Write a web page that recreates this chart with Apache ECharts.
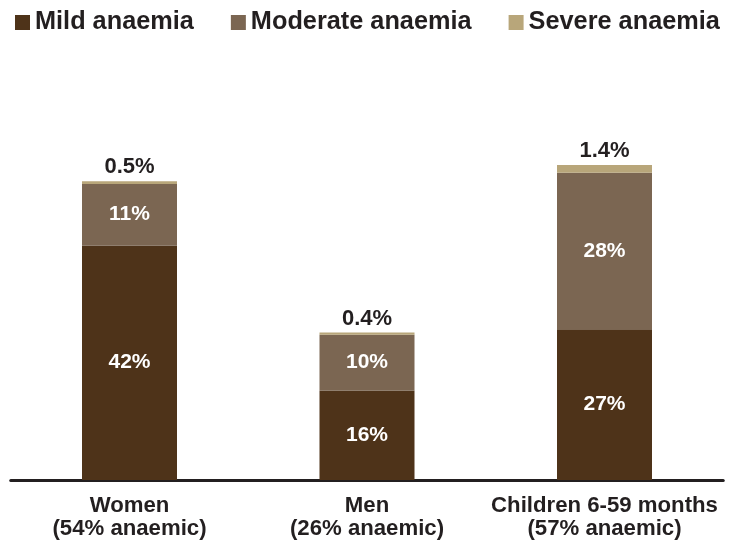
<!DOCTYPE html>
<html>
<head>
<meta charset="utf-8">
<script src="https://cdn.jsdelivr.net/npm/echarts@6/dist/echarts.min.js"></script>
<style>
html,body{margin:0;padding:0;background:#fff;}
#chart{width:734px;height:541px;}
</style>
</head>
<body>
<div id="chart"></div>
<script>
const categories = ['Women\n(54% anaemic)', 'Men\n(26% anaemic)', 'Children 6-59 months\n(57% anaemic)'];
const mild = [42, 16, 27];
const moderate = [11, 10, 28];
const severe = [0.5, 0.4, 1.4];
const seriesNames = ['Mild anaemia', 'Moderate anaemia', 'Severe anaemia'];

const FONT = '"Liberation Sans", Arial, Helvetica, sans-serif';
const TXT = '#231f20';
const colors = ['#4e3319', '#7b6652', '#b8a67a'];

const chart = echarts.init(document.getElementById('chart'), null, {renderer: 'canvas'});
chart.setOption({
  animation: false,
  textStyle: {fontFamily: FONT},
  color: colors,
  legend: {
    left: 10, top: 5,
    icon: 'rect', itemWidth: 15, itemHeight: 15, itemGap: 37,
    textStyle: {fontFamily: FONT, fontSize: 25.3, fontWeight: 'bold', color: TXT, padding: [0, 0, 0, 0]},
    data: seriesNames
  },
  grid: {left: 10.75, right: 10.75, top: 89, bottom: 61, containLabel: false},
  xAxis: {
    type: 'category', data: categories,
    axisLine: {lineStyle: {color: TXT, width: 3}},
    axisTick: {show: false},
    axisLabel: {fontFamily: FONT, fontSize: 22.2, fontWeight: 'bold', color: TXT, margin: 14, lineHeight: 23, interval: 0}
  },
  yAxis: {type: 'value', min: 0, max: 70, show: false, splitLine: {show: false}},
  series: [
    {name: seriesNames[0], type: 'bar', stack: 's', barWidth: 95, data: mild,
     label: {show: true, position: 'inside', formatter: p => p.value + '%', color: '#fff', fontSize: 21, fontWeight: 'bold', fontFamily: FONT}},
    {name: seriesNames[1], type: 'bar', stack: 's', barWidth: 95, data: moderate,
     label: {show: true, position: 'inside', formatter: p => p.value + '%', color: '#fff', fontSize: 21, fontWeight: 'bold', fontFamily: FONT}},
    {name: seriesNames[2], type: 'bar', stack: 's', barWidth: 95, data: severe,
     label: {show: true, position: 'top', distance: 3, formatter: p => p.value + '%', color: TXT, fontSize: 22, fontWeight: 'bold', fontFamily: FONT}}
  ]
});
</script>
</body>
</html>
